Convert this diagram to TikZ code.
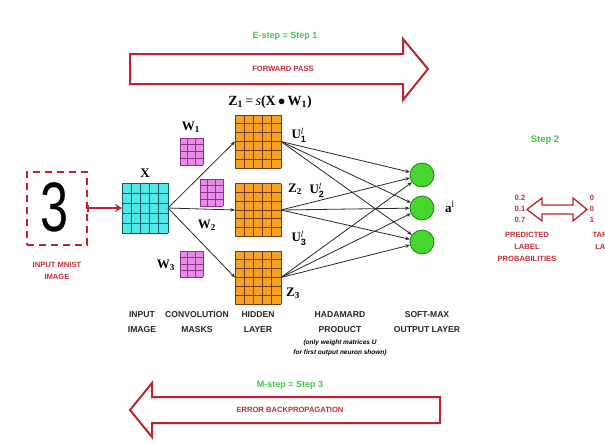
\documentclass[tikz,border=0pt]{standalone}
\usepackage{fontspec}
\setmainfont{Liberation Sans}
\newfontfamily\tserif{Liberation Serif}
\usetikzlibrary{arrows.meta,calc}
\definecolor{arrred}{RGB}{192,35,48}
\definecolor{txtred}{RGB}{200,45,55}
\definecolor{stepgreen}{RGB}{70,195,75}
\definecolor{cyanfill}{RGB}{80,232,232}
\definecolor{cyanline}{RGB}{25,85,95}
\definecolor{orfill}{RGB}{248,162,35}
\definecolor{orline}{RGB}{115,60,15}
\definecolor{pkfill}{RGB}{232,140,232}
\definecolor{pkline}{RGB}{140,50,140}
\definecolor{cgreen}{RGB}{70,215,45}
\definecolor{cgreenline}{RGB}{35,125,25}
\definecolor{linegray}{RGB}{40,40,40}
\newcommand\gridlines[4]{%
  \foreach \i in {0,...,#2}{\draw[#4] ($(#1.north west)!\i/#2!(#1.north east)$) -- ($(#1.south west)!\i/#2!(#1.south east)$);}
  \foreach \j in {0,...,#3}{\draw[#4] ($(#1.north west)!\j/#3!(#1.south west)$) -- ($(#1.north east)!\j/#3!(#1.south east)$);}
}
\begin{document}
\begin{tikzpicture}[x=1pt,y=-1pt,
  gridbox/.style={rectangle,inner sep=0pt,outer sep=0pt},
  conn/.style={draw=linegray,line width=0.8pt,-{Stealth[length=4.5pt,width=3.5pt]}},
  bigarrow/.style={draw=arrred,line width=2pt,fill=white,line join=miter},
  redtxt/.style={text=txtred,font=\bfseries\fontsize{7.6}{12}\selectfont,align=center,inner sep=0pt},
  greentxt/.style={text=stepgreen,font=\bfseries\fontsize{9}{11}\selectfont,inner sep=0pt},
  blacklbl/.style={font=\bfseries\fontsize{8.6}{15}\selectfont,align=center,inner sep=0pt,text=black!85},
  mathlbl/.style={font=\tserif\bfseries\fontsize{13}{13}\selectfont,inner sep=0pt},
  numlbl/.style={text=txtred,font=\bfseries\fontsize{7.6}{11}\selectfont,align=center,inner sep=0pt}]
\useasboundingbox (0,0) rectangle (605,445);
\clip (0,0) rectangle (605,445);
\fill[white] (0,0) rectangle (605,445);

% forward arrow
\draw[bigarrow] (130,54) -- (403,54) -- (403,39) -- (428,69) -- (403,100) -- (403,84) -- (130,84) -- cycle;
\node[greentxt] (estep) at (285,36) {E-step = Step 1};
\node[redtxt] (fwd) at (283,69) {FORWARD PASS};

% backward arrow
\draw[bigarrow] (440,397) -- (152,397) -- (152,383) -- (130,410) -- (152,437) -- (152,423) -- (440,423) -- cycle;
\node[greentxt] (mstep) at (290,385) {M-step = Step 3};
\node[redtxt] (bwd) at (290,410) {ERROR BACKPROPAGATION};

% input image
\node[gridbox,draw=arrred,line width=2pt,dash pattern=on 7pt off 5pt,minimum width=60pt,minimum height=73pt] (img) at (57,208) {};
\node[inner sep=0pt,font=\fontsize{70}{70}\selectfont] (digit) at (55,207) {\scalebox{0.72}[1]{3}};
\node[redtxt] (imglbl) at (57,271) {INPUT MNIST\\IMAGE};

% X grid
\node[gridbox,fill=cyanfill,minimum width=46pt,minimum height=50pt] (X) at (145,208) {};
\gridlines{X}{5}{5}{cyanline,line width=0.9pt}
\node[mathlbl] (Xl) at (145,173) {X};

% masks
\node[gridbox,fill=pkfill,minimum width=23pt,minimum height=27pt] (W1) at (191.5,151.5) {};
\gridlines{W1}{3}{4}{pkline,line width=0.8pt}
\node[gridbox,fill=pkfill,minimum width=23pt,minimum height=27pt] (W2) at (211.5,192.5) {};
\gridlines{W2}{3}{4}{pkline,line width=0.8pt}
\node[gridbox,fill=pkfill,minimum width=23pt,minimum height=26pt] (W3) at (191.5,264) {};
\gridlines{W3}{3}{4}{pkline,line width=0.8pt}
\node[mathlbl] (W1l) at (191,127) {W\textsubscript{1}};
\node[mathlbl] (W2l) at (207,225) {W\textsubscript{2}};
\node[mathlbl] (W3l) at (166,265) {W\textsubscript{3}};

% hidden layer
\node[gridbox,fill=orfill,minimum width=46pt,minimum height=53pt] (Z1) at (258,141.5) {};
\gridlines{Z1}{5}{6}{orline,line width=0.9pt}
\node[gridbox,fill=orfill,minimum width=46pt,minimum height=53pt] (Z2) at (258,210) {};
\gridlines{Z2}{5}{6}{orline,line width=0.9pt}
\node[gridbox,fill=orfill,minimum width=46pt,minimum height=53pt] (Z3) at (258,277.5) {};
\gridlines{Z3}{5}{6}{orline,line width=0.9pt}
\node[inner sep=0pt,font=\tserif\fontsize{14}{14}\selectfont] (Z1l) at (270,102)
  {\textbf{Z}\textsubscript{\textbf{1}}\,=\,\textit{s}\textbf{(X}\,$\bullet$\,\textbf{W}\textsubscript{\textbf{1}}\textbf{)}};
\node[mathlbl] (Z2l) at (295,189) {Z\textsubscript{2}};
\node[mathlbl] (Z3l) at (293,293) {Z\textsubscript{3}};

% output neurons
\node[circle,draw=cgreenline,line width=0.8pt,fill=cgreen,minimum size=24pt,inner sep=0pt] (O1) at (422,175) {};
\node[circle,draw=cgreenline,line width=0.8pt,fill=cgreen,minimum size=24pt,inner sep=0pt] (O2) at (422,208) {};
\node[circle,draw=cgreenline,line width=0.8pt,fill=cgreen,minimum size=24pt,inner sep=0pt] (O3) at (422,242) {};
\node[mathlbl] (al) at (450,207) {a\textsuperscript{\mdseries l}};

% connectors
\draw[conn] (X.east) -- (Z1.west);
\draw[conn] (X.east) -- (Z2.west);
\draw[conn] (X.east) -- (Z3.west);
\foreach \z in {Z1,Z2,Z3}{\foreach \o in {O1,O2,O3}{\draw[conn] (\z.east) -- (\o);}}
\draw[draw=arrred,line width=1.6pt,{Bar[width=7pt]}-{Stealth[length=7pt,width=8pt]}] (img.east) -- (X.west);

\node[mathlbl] (U1l) at (299,135) {U$^{l}_{\mathbf{1}}$};
\node[mathlbl] (U2l) at (317,190) {U$^{l}_{\mathbf{2}}$};
\node[mathlbl] (U3l) at (299,238) {U$^{l}_{\mathbf{3}}$};

% bottom labels
\node[blacklbl] (lin) at (142,322) {INPUT\\IMAGE};
\node[blacklbl] (lconv) at (197,322) {CONVOLUTION\\MASKS};
\node[blacklbl] (lhid) at (258,322) {HIDDEN\\LAYER};
\node[blacklbl] (lhad) at (340,322) {HADAMARD\\PRODUCT};
\node[inner sep=0pt,align=center,font=\bfseries\itshape\fontsize{6.5}{10}\selectfont] (lnote) at (340,348)
  {(only weight matrices U\\for first output neuron shown)};
\node[blacklbl] (lsoft) at (427,322) {SOFT-MAX\\OUTPUT LAYER};

% step 2
\node[greentxt,font=\bfseries\fontsize{9.5}{11}\selectfont] (step2) at (545,140) {Step 2};
\draw[draw=arrred,line width=1.3pt,fill=white,line join=miter] (527,209.5) -- (542,198) -- (542,205) -- (573,205) -- (573,198) -- (587,209.5) -- (573,221) -- (573,214) -- (542,214) -- (542,221) -- cycle;
\node[numlbl] (pred) at (520,208.5) {0.2\\0.1\\0.7};
\node[numlbl] (targ) at (592,208.5) {0\\0\\1};
\node[redtxt] (predl) at (527,247) {PREDICTED\\LABEL\\PROBABILITIES};
\node[redtxt] (targl) at (608,241) {TARGET\\LABEL};
\end{tikzpicture}
\end{document}
